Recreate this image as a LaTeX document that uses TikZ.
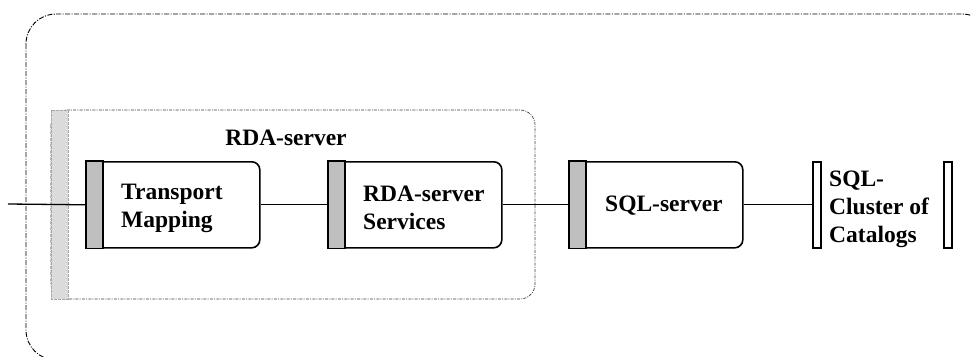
\documentclass[tikz,border=0pt]{standalone}
\usepackage{fontspec}
\setmainfont{Liberation Serif}
\begin{document}
\begin{tikzpicture}[x=1bp,y=-1bp,
  txt/.style={font=\bfseries\fontsize{23.5bp}{28bp}\selectfont, align=left, inner sep=0pt},
  body/.style={draw, line width=1.6bp, rounded corners=8bp, minimum width=173bp, minimum height=86bp, inner sep=0pt, fill=white},
  tabbox/.style={draw, line width=1.6bp, fill=black!25},
  bar/.style={draw, line width=1.6bp, minimum width=8bp, minimum height=86bp, inner sep=0pt},
  conn/.style={line width=1.3bp},
  outerframe/.style={line width=0.9bp, dash pattern=on 5bp off 1.5bp on 1bp off 1.5bp},
  innerframe/.style={line width=0.7bp, black!75, dash pattern=on 3bp off 1.2bp on 1bp off 1.2bp}
]
\clip (0,0) rectangle (971,356);
\fill[white] (0,0) rectangle (971,356);
% outer frame
\draw[outerframe, rounded corners=30bp] (26,14) rectangle (992,360);
% inner RDA-server frame
\draw[innerframe, rounded corners=15bp] (51,110) rectangle (535,299);
\fill[black!14] (51,110) rectangle (68,299);
\draw[black!35, line width=0.6bp, dash pattern=on 3bp off 1bp] (51,110) rectangle (68,299);
\node[txt] (rdalabel) at (286,138) {RDA-server};

% boxes
\node[body, anchor=north west] (tm) at (86,161) {};
\draw[tabbox] (tm.north west) rectangle ([xshift=17bp]tm.south west);
\node[txt, anchor=west] (tmt) at (121,208) {Transport\\Mapping};

\node[body, anchor=north west] (rs) at (328,161) {};
\draw[tabbox] (rs.north west) rectangle ([xshift=17bp]rs.south west);
\node[txt, anchor=west] (rst) at (363,208) {RDA-server\\Services};

\node[body, anchor=north west] (sq) at (569,161) {};
\draw[tabbox] (sq.north west) rectangle ([xshift=17bp]sq.south west);
\node[txt, anchor=west] (sqt) at (605,206) {SQL-server};

\node[bar, anchor=north west] (b1) at (812,161) {};
\node[bar, anchor=north west] (b2) at (943,161) {};
\node[txt, anchor=west] (clt) at (829,209) {SQL-\\Cluster of\\Catalogs};

% connectors
\coordinate (in) at (8,204);
\draw[conn] (in) -- (tm.west);
\draw[conn] (tm.east) -- (rs.west);
\draw[conn] (rs.east) -- (sq.west);
\draw[conn] (sq.east) -- (b1.west);
\end{tikzpicture}
\end{document}
